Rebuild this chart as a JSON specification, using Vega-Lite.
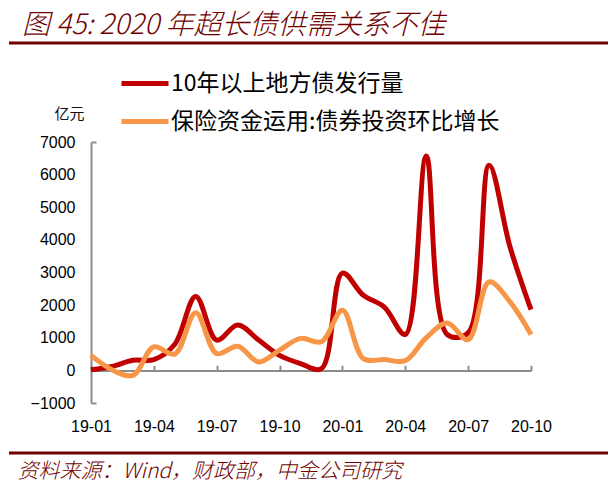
{
  "$schema": "https://vega.github.io/schema/vega-lite/v6.json",
  "autosize": {"type": "none"},
  "width": 440,
  "height": 261,
  "padding": {"left": 91, "top": 142, "right": 85, "bottom": 86},
  "background": "white",
  "title": {
    "text": "图 45: 2020 年超长债供需关系不佳",
    "anchor": "start",
    "frame": "group",
    "orient": "top",
    "font": "Noto Sans CJK SC",
    "fontSize": 28,
    "fontStyle": "italic",
    "fontWeight": 300,
    "color": "#700000",
    "dx": -69,
    "dy": 8,
    "offset": 10
  },
  "config": {
    "view": {"stroke": null},
    "axis": {"labelFont": "Liberation Sans", "labelColor": "#000000", "grid": false}
  },
  "data": {
    "values": [
      {"m": "19-01", "s": "10年以上地方债发行量", "v": 20},
      {"m": "19-02", "s": "10年以上地方债发行量", "v": 120},
      {"m": "19-03", "s": "10年以上地方债发行量", "v": 310},
      {"m": "19-04", "s": "10年以上地方债发行量", "v": 330},
      {"m": "19-05", "s": "10年以上地方债发行量", "v": 800},
      {"m": "19-06", "s": "10年以上地方债发行量", "v": 2265},
      {"m": "19-07", "s": "10年以上地方债发行量", "v": 930},
      {"m": "19-08", "s": "10年以上地方债发行量", "v": 1390},
      {"m": "19-09", "s": "10年以上地方债发行量", "v": 930},
      {"m": "19-10", "s": "10年以上地方债发行量", "v": 460},
      {"m": "19-11", "s": "10年以上地方债发行量", "v": 210},
      {"m": "19-12", "s": "10年以上地方债发行量", "v": 50},
      {"m": "20-01", "s": "10年以上地方债发行量", "v": 2980},
      {"m": "20-02", "s": "10年以上地方债发行量", "v": 2300},
      {"m": "20-03", "s": "10年以上地方债发行量", "v": 1940},
      {"m": "20-04", "s": "10年以上地方债发行量", "v": 1100},
      {"m": "20-05", "s": "10年以上地方债发行量", "v": 6570},
      {"m": "20-06", "s": "10年以上地方债发行量", "v": 1100},
      {"m": "20-07", "s": "10年以上地方债发行量", "v": 1150},
      {"m": "20-08", "s": "10年以上地方债发行量", "v": 6290},
      {"m": "20-09", "s": "10年以上地方债发行量", "v": 3780},
      {"m": "20-10", "s": "10年以上地方债发行量", "v": 1860},
      {"m": "19-01", "s": "保险资金运用:债券投资环比增长", "v": 460},
      {"m": "19-02", "s": "保险资金运用:债券投资环比增长", "v": 20},
      {"m": "19-03", "s": "保险资金运用:债券投资环比增长", "v": -150},
      {"m": "19-04", "s": "保险资金运用:债券投资环比增长", "v": 720},
      {"m": "19-05", "s": "保险资金运用:债券投资环比增长", "v": 500},
      {"m": "19-06", "s": "保险资金运用:债券投资环比增长", "v": 1770},
      {"m": "19-07", "s": "保险资金运用:债券投资环比增长", "v": 515},
      {"m": "19-08", "s": "保险资金运用:债券投资环比增长", "v": 740},
      {"m": "19-09", "s": "保险资金运用:债券投资环比增长", "v": 260},
      {"m": "19-10", "s": "保险资金运用:债券投资环比增长", "v": 620},
      {"m": "19-11", "s": "保险资金运用:债券投资环比增长", "v": 980},
      {"m": "19-12", "s": "保险资金运用:债券投资环比增长", "v": 875},
      {"m": "20-01", "s": "保险资金运用:债券投资环比增长", "v": 1840},
      {"m": "20-02", "s": "保险资金运用:债券投资环比增长", "v": 360},
      {"m": "20-03", "s": "保险资金运用:债券投资环比增长", "v": 330},
      {"m": "20-04", "s": "保险资金运用:债券投资环比增长", "v": 300},
      {"m": "20-05", "s": "保险资金运用:债券投资环比增长", "v": 1000},
      {"m": "20-06", "s": "保险资金运用:债券投资环比增长", "v": 1450},
      {"m": "20-07", "s": "保险资金运用:债券投资环比增长", "v": 940},
      {"m": "20-08", "s": "保险资金运用:债券投资环比增长", "v": 2710},
      {"m": "20-09", "s": "保险资金运用:债券投资环比增长", "v": 2100},
      {"m": "20-10", "s": "保险资金运用:债券投资环比增长", "v": 1100}
    ]
  },
  "layer": [
    {
      "mark": {"type": "line", "strokeOpacity": 0, "strokeWidth": 1},
      "encoding": {
        "x": {
          "field": "m", "type": "ordinal",
          "scale": {"type": "point", "padding": 0},
          "axis": {
            "orient": "bottom",
            "offset": -32.625,
            "values": ["19-01", "19-04", "19-07", "19-10", "20-01", "20-04", "20-07", "20-10"],
            "labels": false,
            "domain": true, "domainColor": "#8c8c8c", "domainWidth": 2,
            "ticks": true, "tickColor": "#8c8c8c", "tickWidth": 2, "tickSize": -5,
            "title": null
          }
        },
        "y": {
          "field": "v", "type": "quantitative",
          "scale": {"domain": [-1000, 7000], "nice": false, "zero": false},
          "axis": {
            "orient": "left",
            "values": [-1000, 7000],
            "labels": false, "domain": false,
            "ticks": true, "tickColor": "#8c8c8c", "tickWidth": 2, "tickSize": -5,
            "title": null
          }
        },
        "detail": {"field": "s"}
      }
    },
    {
      "mark": {"type": "line", "strokeWidth": 5, "interpolate": "catmull-rom"},
      "encoding": {
        "x": {
          "field": "m", "type": "ordinal",
          "axis": {
            "orient": "bottom",
            "values": ["19-01", "19-04", "19-07", "19-10", "20-01", "20-04", "20-07", "20-10"],
            "labelAngle": 0, "labelFontSize": 16, "labelPadding": 15,
            "domain": false, "ticks": false,
            "title": "资料来源：Wind，财政部，中金公司研究",
            "titleX": -74, "titleY": 74,
            "titleAlign": "left", "titleAnchor": "start", "titleBaseline": "alphabetic",
            "titleFont": "Noto Sans CJK SC", "titleFontSize": 21,
            "titleFontStyle": "italic", "titleFontWeight": 300, "titleColor": "#700000"
          }
        },
        "y": {
          "field": "v", "type": "quantitative",
          "axis": {
            "orient": "left",
            "values": [-1000, 0, 1000, 2000, 3000, 4000, 5000, 6000, 7000],
            "format": "d",
            "labelFontSize": 16, "labelPadding": 16,
            "domain": true, "domainColor": "#8c8c8c", "domainWidth": 2,
            "ticks": false,
            "title": "亿元", "titleAngle": 0, "titleX": -22, "titleY": -29,
            "titleAlign": "center", "titleBaseline": "middle",
            "titleFont": "Noto Sans CJK SC", "titleFontSize": 15,
            "titleFontWeight": "normal", "titleColor": "#111111"
          }
        },
        "color": {
          "field": "s", "type": "nominal",
          "scale": {
            "domain": ["10年以上地方债发行量", "保险资金运用:债券投资环比增长"],
            "range": ["#C00000", "#F79646"]
          },
          "legend": {
            "orient": "none", "legendX": 28, "legendY": -84.5,
            "title": null, "padding": 0,
            "symbolType": "stroke", "symbolSize": 2209, "symbolStrokeWidth": 5,
            "labelFont": "Noto Sans CJK SC", "labelFontSize": 23, "labelColor": "#000000",
            "labelOffset": 0, "rowPadding": -5, "labelLimit": 500
          }
        }
      }
    },
    {
      "data": {"values": [{"k": "top"}]},
      "mark": {"type": "rule", "clip": false, "color": "#700000", "strokeWidth": 3},
      "encoding": {"x": {"value": -82}, "x2": {"value": 517}, "y": {"value": -99}}
    },
    {
      "data": {"values": [{"k": "bottom"}]},
      "mark": {"type": "rule", "clip": false, "color": "#700000", "strokeWidth": 3},
      "encoding": {"x": {"value": -82}, "x2": {"value": 517}, "y": {"value": 311}}
    }
  ],
  "resolve": {"axis": {"x": "independent", "y": "independent"}}
}
